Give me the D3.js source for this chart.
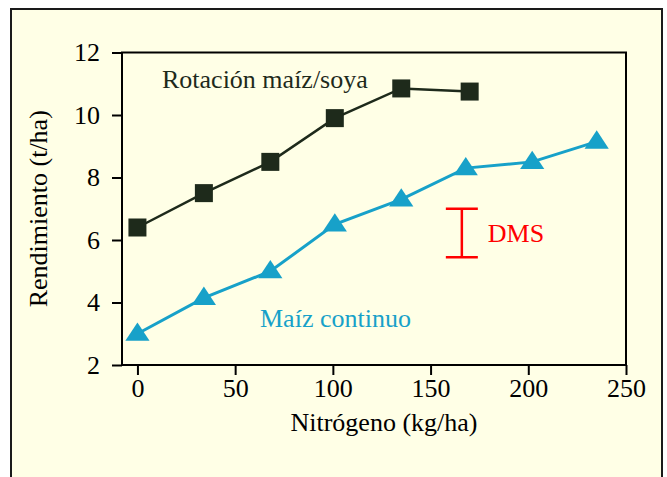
<!DOCTYPE html>
<html>
<head>
<meta charset="utf-8">
<script src="https://cdn.jsdelivr.net/npm/d3@7"></script>
<style>
  body { margin: 0; background: #fff; }
  svg { display: block; }
</style>
</head>
<body>
<div id="chart"></div>
<script>
// nitrogen rates (kg/ha)
var rotacionN = [0, 34, 68, 101, 135, 170];
var rotacionY = [6.4, 7.5, 8.5, 9.9, 10.85, 10.75];
var continuoN = [0, 34, 68, 101, 135, 168, 202, 235];
var continuoY = [3.0, 4.15, 5.0, 6.5, 7.3, 8.3, 8.5, 9.15];
var xTicks = [0, 50, 100, 150, 200, 250];
var yTicks = [2, 4, 6, 8, 10, 12];
// LSD bar (DMS)
var dmsN = 166;
var dmsRange = [5.45, 7.0];

var W = 667, H = 477;
var margin = { top: 52.5, right: 41, bottom: 112, left: 122 };
var DARK = '#1e2a1b', BLUE = '#17a1c9';
var SERIF = '"Times New Roman", "Liberation Serif", Times, "DejaVu Serif", serif';

var svg = d3.select('#chart').append('svg').attr('width', W).attr('height', H)
  .attr('font-family', SERIF);

// outer frame
svg.append('rect').attr('x', 11).attr('y', 9).attr('width', 651).attr('height', 490)
  .attr('fill', '#ffffe6').attr('stroke', '#1a1a1a').attr('stroke-width', 2);

var x = d3.scaleLinear().domain([-7.9, 250]).range([margin.left, W - margin.right]);
var y = d3.scaleLinear().domain([2, 12]).range([H - margin.bottom, margin.top]);

// plot box
svg.append('rect').attr('x', x.range()[0]).attr('y', y(12))
  .attr('width', x.range()[1] - x.range()[0]).attr('height', y(2) - y(12))
  .attr('fill', 'none').attr('stroke', '#000').attr('stroke-width', 2);

var xAxis = svg.append('g').attr('transform', 'translate(0,' + y(2) + ')')
  .call(d3.axisBottom(x).tickValues(xTicks).tickSize(10).tickPadding(4).tickFormat(d3.format('d')));
var yAxis = svg.append('g').attr('transform', 'translate(' + x.range()[0] + ',0)')
  .call(d3.axisLeft(y).tickValues(yTicks).tickSize(10).tickPadding(12).tickFormat(d3.format('d')));
[xAxis, yAxis].forEach(function (g) {
  g.attr('font-family', SERIF).attr('font-size', 26);
  g.select('.domain').remove();
  g.selectAll('line').attr('stroke', '#000').attr('stroke-width', 2);
  g.selectAll('text').attr('fill', '#000');
});

svg.append('text').attr('x', 384).attr('y', 431).attr('text-anchor', 'middle')
  .attr('font-size', 26).text('Nitrógeno (kg/ha)');
svg.append('text').attr('transform', 'translate(47,' + ((y(2) + y(12)) / 2) + ') rotate(-90)')
  .attr('text-anchor', 'middle').attr('font-size', 26).text('Rendimiento (t/ha)');

var line = d3.line().x(function (d) { return x(d[0]); }).y(function (d) { return y(d[1]); });
var rot = d3.zip(rotacionN, rotacionY);
var con = d3.zip(continuoN, continuoY);

svg.append('path').datum(con).attr('d', line).attr('fill', 'none')
  .attr('stroke', BLUE).attr('stroke-width', 3);
svg.append('path').datum(rot).attr('d', line).attr('fill', 'none')
  .attr('stroke', DARK).attr('stroke-width', 2.5);

svg.selectAll('.sq').data(rot).enter().append('rect')
  .attr('x', function (d) { return x(d[0]) - 9; })
  .attr('y', function (d) { return y(d[1]) - 9; })
  .attr('width', 18).attr('height', 18).attr('fill', DARK);

var tri = d3.symbol().type(d3.symbolTriangle).size(230);
svg.selectAll('.tri').data(con).enter().append('path')
  .attr('d', tri)
  .attr('transform', function (d) { return 'translate(' + x(d[0]) + ',' + (y(d[1]) + 1) + ') scale(1.05,0.92)'; })
  .attr('fill', BLUE);

// DMS bar
var dx = x(dmsN);
var dms = svg.append('g').attr('stroke', '#ff0000').attr('stroke-width', 2.5);
dms.append('line').attr('x1', dx).attr('x2', dx).attr('y1', y(dmsRange[0])).attr('y2', y(dmsRange[1]));
dms.selectAll('.cap').data(dmsRange).enter().append('line')
  .attr('x1', dx - 16).attr('x2', dx + 16)
  .attr('y1', function (d) { return y(d); }).attr('y2', function (d) { return y(d); });
svg.append('text').attr('x', dx + 26).attr('y', y(6.23) + 9).attr('fill', '#ff0000')
  .attr('font-size', 26).text('DMS');

svg.append('text').attr('x', 162).attr('y', 88).attr('fill', DARK)
  .attr('font-size', 26).text('Rotación maíz/soya');
svg.append('text').attr('x', 260).attr('y', 327).attr('fill', BLUE)
  .attr('font-size', 26).text('Maíz continuo');
</script>
</body>
</html>
